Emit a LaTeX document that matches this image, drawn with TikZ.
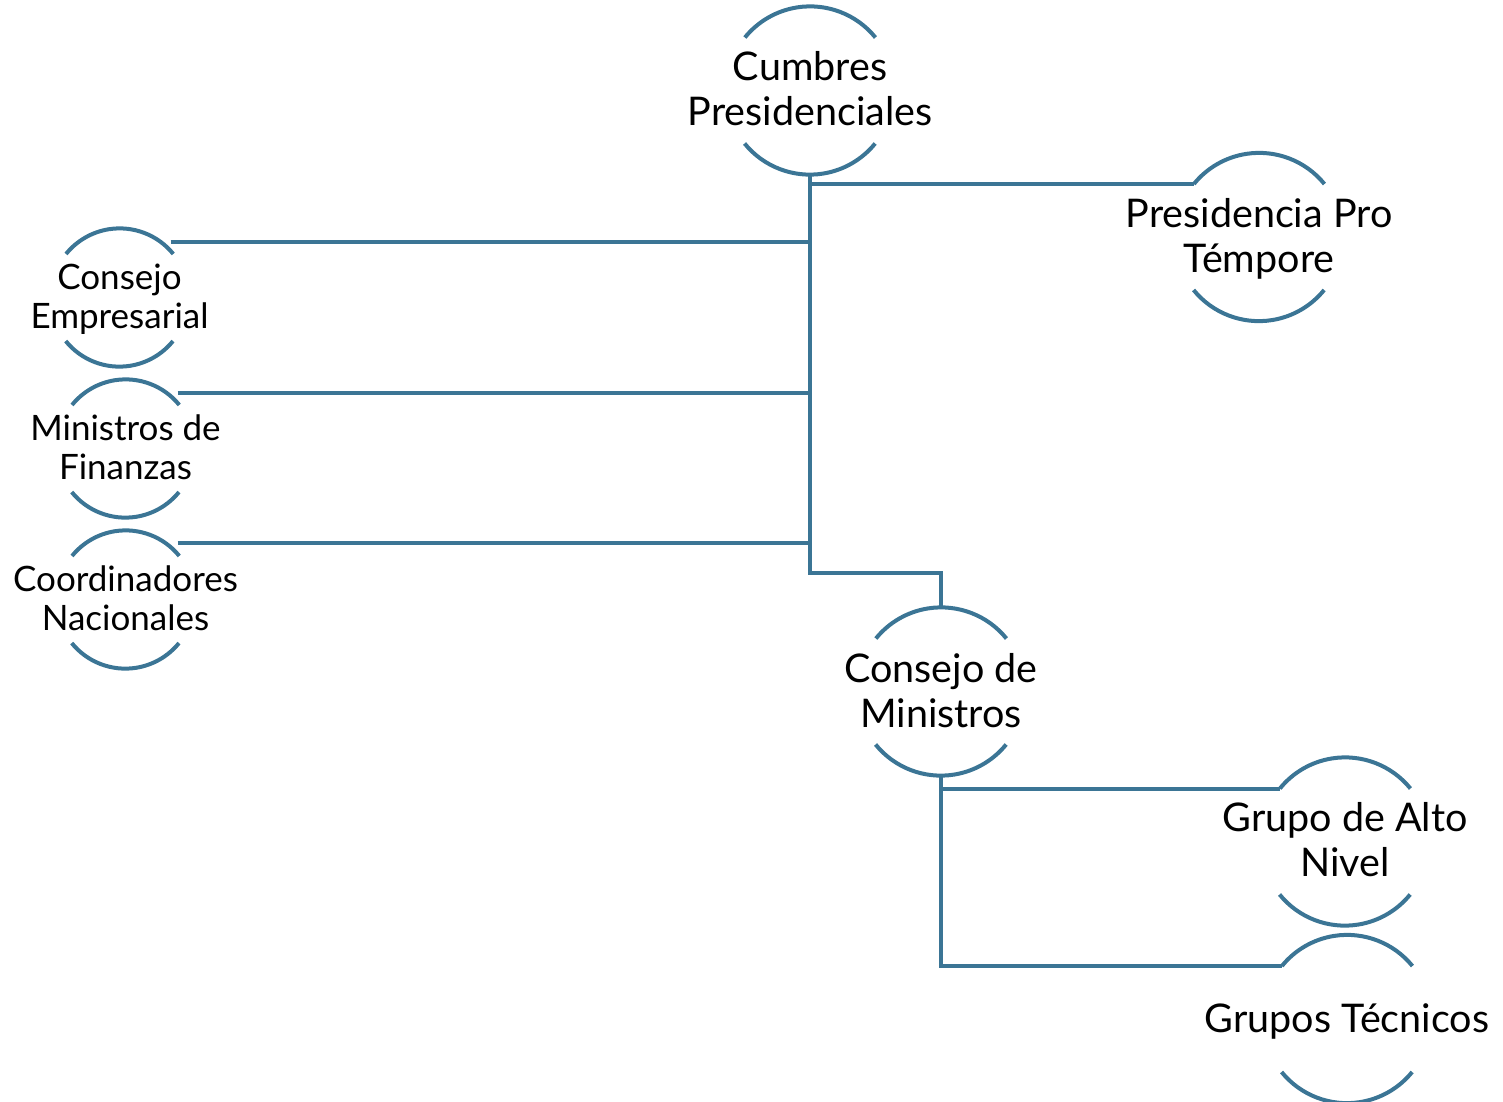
\documentclass[tikz,border=0pt]{standalone}
\usepackage{fontspec}
\setmainfont{Lato}
\definecolor{ringblue}{RGB}{59,117,149}
\begin{document}
\begin{tikzpicture}[x=1pt,y=1pt,
  ringbig/.style={circle,draw=none,inner sep=0pt,minimum size=168pt},
  ringsmall/.style={circle,draw=none,inner sep=0pt,minimum size=138pt},
  bigtxt/.style={align=center,inner sep=0pt,font=\fontsize{39.5}{44.5}\selectfont},
  smalltxt/.style={align=center,inner sep=0pt,font=\fontsize{35}{38.5}\selectfont},
  ring/.style={draw=ringblue,line width=4pt},
  conn/.style={draw=ringblue,line width=4pt}]
\useasboundingbox (0,0) rectangle (1503,-1101);
% rings
\node[ringbig]   (cp) at (810,-90.5) {};
\node[ringbig]   (pt) at (1259,-237) {};
\node[ringsmall] (ce) at (119.5,-297.5) {};
\node[ringsmall] (mf) at (125.5,-448.5) {};
\node[ringsmall] (cn) at (125.5,-599.5) {};
\node[ringbig]   (cm) at (941,-691.5) {};
\node[ringbig]   (ga) at (1345,-841.5) {};
\node[ringbig]   (gt) at (1347,-1019) {};
\foreach \n/\r in {cp/84,pt/84,ce/69,mf/69,cn/69,cm/84,ga/84,gt/84}{
  \draw[ring] (\n.39) arc (39:141:\r);
  \draw[ring] (\n.219) arc (219:321:\r);
}
% texts
\node[bigtxt]   (cpt) at ([yshift=2]cp.center) {Cumbres\\Presidenciales};
\node[bigtxt]   (ptt) at ([yshift=-1.6]pt.center) {Presidencia Pro\\Témpore};
\node[smalltxt] (cet) at ([yshift=-1.5]ce.center) {Consejo\\Empresarial};
\node[smalltxt] (mft) at ([yshift=1.5]mf.center) {Ministros de\\Finanzas};
\node[smalltxt] (cnt) at ([yshift=1.5]cn.center) {Coordinadores\\Nacionales};
\node[bigtxt]   (cmt) at ([yshift=1]cm.center) {Consejo de\\Ministros};
\node[bigtxt]   (gat) at ([yshift=2]ga.center) {Grupo de Alto\\Nivel};
\node[bigtxt]   (gtt) at ([yshift=-2.5]gt.center) {Grupos Técnicos};
% connector points
\coordinate (ceR) at ([shift={(51,55.5)}]ce.center);
\coordinate (mfR) at ([shift={(52,55.5)}]mf.center);
\coordinate (cnR) at ([shift={(52,56.5)}]cn.center);
\coordinate (j1) at (810,-573);
% connectors
\draw[conn] (cp.south) -- (j1) -| (cm.north);
\draw[conn] (pt.141) -- (pt.141 -| cp.south);
\draw[conn] (ceR) -- (ceR -| cp.south);
\draw[conn] (mfR) -- (mfR -| cp.south);
\draw[conn] (cnR) -- (cnR -| cp.south);
\draw[conn] (cm.south) |- (ga.141);
\draw[conn] (cm.south) |- (gt.141);
\end{tikzpicture}
\end{document}
